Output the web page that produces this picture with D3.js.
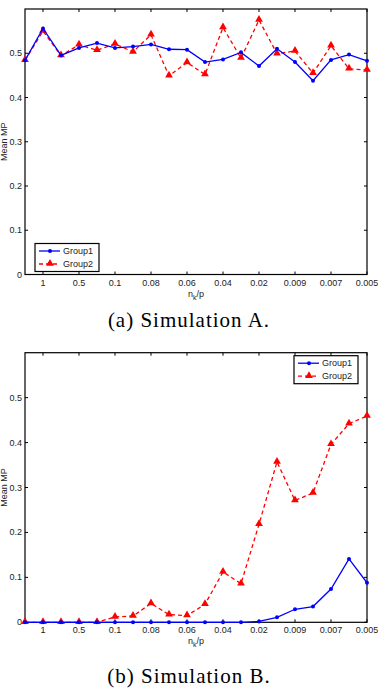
<!DOCTYPE html>
<head>
    <meta charset="utf-8">
    <script src="https://d3js.org/d3.v7.min.js"></script>
    <style>
        body { margin: 0; padding: 0; background: #fff; }
        svg { display: block; }
        .tick-label { font-family: "Liberation Sans", Arial, sans-serif; font-size: 9px; fill: #222; }
        .caption { font-family: "Liberation Serif", "Times New Roman", serif; font-size: 21px; letter-spacing: 1px; fill: #000; }
    </style>
</head>
<body>
<div id="my_dataviz"></div>
<script>
    // x categories (n_k/p), only every other one gets a label
    var xTickLabels = ["1", "0.5", "0.1", "0.08", "0.06", "0.04", "0.02", "0.009", "0.007", "0.005"];
    var yTicks = [0, 0.1, 0.2, 0.3, 0.4, 0.5];
    var seriesNames = ["Group1", "Group2"];

    // Simulation A
    var simA_group1 = [0.484, 0.556, 0.495, 0.512, 0.523, 0.512, 0.515, 0.520, 0.509, 0.508,
                       0.480, 0.486, 0.502, 0.471, 0.510, 0.480, 0.438, 0.485, 0.497, 0.483];
    var simA_group2 = [0.484, 0.550, 0.495, 0.519, 0.507, 0.521, 0.503, 0.542, 0.449, 0.479,
                       0.452, 0.558, 0.489, 0.575, 0.499, 0.505, 0.455, 0.517, 0.465, 0.462];

    // Simulation B
    var simB_group1 = [0, 0, 0, 0, 0, 0, 0, 0, 0, 0,
                       0, 0, 0, 0.002, 0.011, 0.029, 0.035, 0.074, 0.141, 0.088];
    var simB_group2 = [0, 0, 0, 0, 0, 0.012, 0.014, 0.042, 0.017, 0.015,
                       0.040, 0.112, 0.086, 0.218, 0.357, 0.271, 0.288, 0.396, 0.442, 0.459];

    var W = 378, H = 690;
    var svg = d3.select("#my_dataviz")
        .append("svg")
        .attr("width", W)
        .attr("height", H);

    var blue = "#0000ff", red = "#ff0000";

    function drawPanel(top, bottom, g1, g2, legendPos, caption, captionY) {
        var left = 25, right = 367;
        var g = svg.append("g");

        var x = d3.scaleLinear().domain([0, g1.length - 1]).range([left, right]);
        var y = d3.scaleLinear().domain([0, 0.6]).range([bottom, top]);

        var tickIdx = xTickLabels.map(function (d, i) { return 2 * i + 1; });

        // frame
        g.append("rect")
            .attr("x", left).attr("y", top)
            .attr("width", right - left).attr("height", bottom - top)
            .attr("fill", "none").attr("stroke", "#000").attr("stroke-width", 1.2);

        // x ticks (inside, bottom and top)
        tickIdx.forEach(function (i, k) {
            g.append("line").attr("x1", x(i)).attr("x2", x(i)).attr("y1", bottom).attr("y2", bottom - 3)
                .attr("stroke", "#000");
            g.append("line").attr("x1", x(i)).attr("x2", x(i)).attr("y1", top).attr("y2", top + 3)
                .attr("stroke", "#000");
            g.append("text").attr("class", "tick-label")
                .attr("x", x(i)).attr("y", bottom + 11)
                .attr("text-anchor", "middle")
                .text(xTickLabels[k]);
        });

        // y ticks (inside, left and right)
        yTicks.forEach(function (v) {
            g.append("line").attr("x1", left).attr("x2", left + 3).attr("y1", y(v)).attr("y2", y(v))
                .attr("stroke", "#000");
            g.append("line").attr("x1", right).attr("x2", right - 3).attr("y1", y(v)).attr("y2", y(v))
                .attr("stroke", "#000");
            g.append("text").attr("class", "tick-label")
                .attr("x", left - 3).attr("y", y(v) + 3)
                .attr("text-anchor", "end")
                .text(v === 0 ? "0" : d3.format(".1f")(v));
        });

        // axis labels
        var xl = g.append("text").attr("class", "tick-label")
            .attr("x", (left + right) / 2).attr("y", bottom + 22)
            .attr("text-anchor", "middle");
        xl.append("tspan").text("n");
        xl.append("tspan").attr("font-size", "7px").attr("dy", 3).text("k");
        xl.append("tspan").attr("dy", -3).text("/p");

        g.append("text").attr("class", "tick-label")
            .attr("font-size", "8px")
            .attr("transform", "translate(7," + ((top + bottom) / 2) + ") rotate(-90)")
            .attr("text-anchor", "middle")
            .text("Mean MP");

        var line = d3.line()
            .x(function (d, i) { return x(i); })
            .y(function (d) { return y(d); });

        // Group2 (red dashed, triangles)
        g.append("path").datum(g2)
            .attr("d", line)
            .attr("fill", "none").attr("stroke", red).attr("stroke-width", 1.3)
            .attr("stroke-dasharray", "4,3");
        var tri = d3.symbol().type(d3.symbolTriangle).size(26);
        g.append("g").selectAll("path")
            .data(g2).enter().append("path")
            .attr("d", tri)
            .attr("transform", function (d, i) { return "translate(" + x(i) + "," + (y(d) - 0.5) + ")"; })
            .attr("fill", red);

        // Group1 (blue solid, dots)
        g.append("path").datum(g1)
            .attr("d", line)
            .attr("fill", "none").attr("stroke", blue).attr("stroke-width", 1.3);
        g.append("g").selectAll("circle")
            .data(g1).enter().append("circle")
            .attr("cx", function (d, i) { return x(i); })
            .attr("cy", function (d) { return y(d); })
            .attr("r", 2)
            .attr("fill", blue);

        // legend
        var lg = g.append("g").attr("transform", "translate(" + legendPos[0] + "," + legendPos[1] + ")");
        lg.append("rect").attr("x", 0).attr("y", 0).attr("width", 64).attr("height", 28)
            .attr("fill", "#fff").attr("stroke", "#000").attr("stroke-width", 1.2);
        seriesNames.forEach(function (name, k) {
            var ly = 7.5 + k * 13;
            var col = k === 0 ? blue : red;
            lg.append("line").attr("x1", 4).attr("x2", 25).attr("y1", ly).attr("y2", ly)
                .attr("stroke", col).attr("stroke-width", 1.3)
                .attr("stroke-dasharray", k === 0 ? null : "4,3");
            if (k === 0) {
                lg.append("circle").attr("cx", 15).attr("cy", ly).attr("r", 2).attr("fill", col);
            } else {
                lg.append("path").attr("d", tri)
                    .attr("transform", "translate(15," + (ly - 0.5) + ")").attr("fill", col);
            }
            lg.append("text").attr("class", "tick-label")
                .attr("x", 28).attr("y", ly + 3.2)
                .text(name);
        });

        svg.append("text").attr("class", "caption")
            .attr("x", 189).attr("y", captionY)
            .attr("text-anchor", "middle")
            .text(caption);
    }

    drawPanel(9, 274.5, simA_group1, simA_group2, [35, 243.5], "(a) Simulation A.", 327);
    drawPanel(352.7, 622.3, simB_group1, simB_group2, [294, 355.7], "(b) Simulation B.", 683);
</script>
</body>
